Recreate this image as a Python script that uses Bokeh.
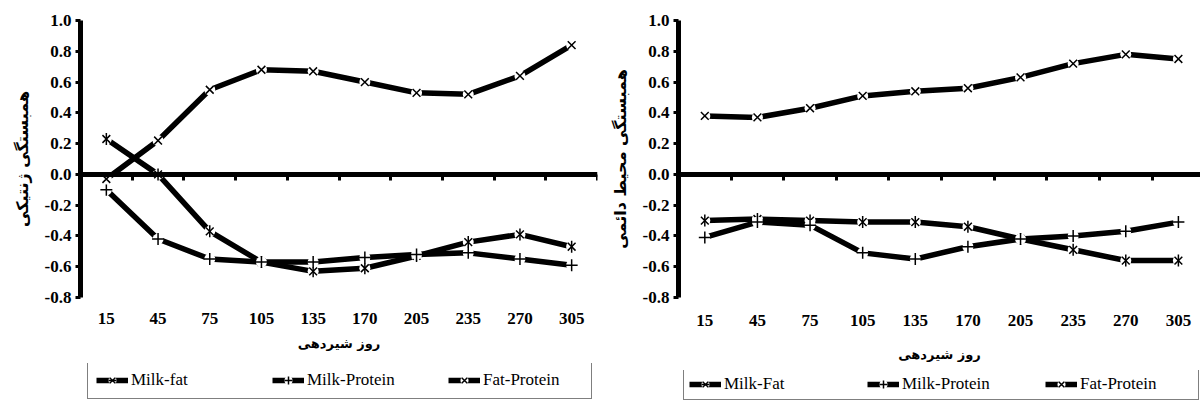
import numpy as np
from bokeh.plotting import figure
from bokeh.models import (Range1d, FixedTicker, LinearAxis, Legend, LegendItem,
                          PrintfTickFormatter, ColumnDataSource)
from bokeh.layouts import row, column
from bokeh.embed import file_html
from bokeh.resources import INLINE

# ---------------- data ----------------
days = ["15", "45", "75", "105", "135", "170", "205", "235", "270", "305"]
y_ticks = [-0.8, -0.6, -0.4, -0.2, 0.0, 0.2, 0.4, 0.6, 0.8, 1.0]

# genetic correlations (left chart)
gen_milk_fat = [0.23, 0.00, -0.37, -0.57, -0.63, -0.61, -0.53, -0.44, -0.39, -0.47]
gen_milk_protein = [-0.10, -0.42, -0.55, -0.57, -0.57, -0.54, -0.52, -0.51, -0.55, -0.59]
gen_fat_protein = [-0.03, 0.22, 0.55, 0.68, 0.67, 0.60, 0.53, 0.52, 0.64, 0.84]

# permanent environmental correlations (right chart)
pe_milk_fat = [-0.30, -0.29, -0.30, -0.31, -0.31, -0.34, -0.42, -0.49, -0.56, -0.56]
pe_milk_protein = [-0.41, -0.31, -0.33, -0.51, -0.55, -0.47, -0.42, -0.40, -0.37, -0.31]
pe_fat_protein = [0.38, 0.37, 0.43, 0.51, 0.54, 0.56, 0.63, 0.72, 0.78, 0.75]

left_ytitle = "همبستگی ژنتیکی"
right_ytitle = "همبستگی محیط دائمی"
xtitle = "روز شیردهی"
left_labels = ["Milk-fat", "Milk-Protein", "Fat-Protein"]
right_labels = ["Milk-Fat", "Milk-Protein", "Fat-Protein"]

xs = [i + 0.5 for i in range(len(days))]
boundaries = list(range(len(days) + 1))

NUM_FONT = "Liberation Serif"
FA_FONT = "DejaVu Sans"


def add_series(p, src, kind):
    rs = [p.line("x", "y", source=src, line_color="black", line_width=5.5)]
    rs.append(p.scatter("x", "y", source=src, marker="circle", size=11,
                        fill_color="white", line_color=None))
    if kind == "star":
        rs.append(p.scatter("x", "y", source=src, marker="x", size=11,
                            line_color="black", line_width=1.5))
        rs.append(p.scatter("x", "y", source=src, marker="dash", angle=np.pi / 2,
                            size=12, line_color="black", line_width=1.5))
    elif kind == "cross":
        rs.append(p.scatter("x", "y", source=src, marker="cross", size=12,
                            line_color="black", line_width=1.5))
    else:
        rs.append(p.scatter("x", "y", source=src, marker="x", size=11,
                            line_color="black", line_width=1.5))
    return rs


def make_chart(border_left, frame_w, border_right, border_bottom, x_end, ytitle,
               series, labels, lab_standoff, title_standoff, leg):
    p = figure(frame_width=frame_w, frame_height=277,
               x_range=Range1d(0, x_end), y_range=Range1d(y_ticks[0], y_ticks[-1]),
               output_backend="svg", toolbar_location=None,
               min_border_left=border_left, min_border_right=border_right,
               min_border_top=20, min_border_bottom=border_bottom)
    p.grid.visible = False
    p.outline_line_color = None
    p.background_fill_color = "white"

    # category labels
    xa = p.xaxis[0]
    xa.ticker = FixedTicker(ticks=xs)
    xa.major_label_overrides = {x: d for x, d in zip(xs, days)}
    xa.axis_line_color = None
    xa.major_tick_line_color = None
    xa.minor_tick_line_color = None
    xa.major_tick_out = 0
    xa.major_tick_in = 0
    xa.major_label_standoff = lab_standoff
    xa.major_label_text_font = NUM_FONT
    xa.major_label_text_font_style = "bold"
    xa.major_label_text_font_size = "17px"
    xa.major_label_text_color = "black"
    xa.axis_label = xtitle
    xa.axis_label_text_font = FA_FONT
    xa.axis_label_text_font_style = "bold"
    xa.axis_label_text_font_size = "13px"
    xa.axis_label_text_color = "black"
    xa.axis_label_standoff = title_standoff

    # y axis
    ya = p.yaxis[0]
    ya.ticker = FixedTicker(ticks=y_ticks)
    ya.formatter = PrintfTickFormatter(format="%.1f")
    ya.axis_line_width = 5
    ya.axis_line_color = "black"
    ya.major_tick_out = 5
    ya.major_tick_in = 0
    ya.major_tick_line_width = 3
    ya.minor_tick_line_color = None
    ya.major_label_standoff = 4
    ya.major_label_text_font = NUM_FONT
    ya.major_label_text_font_style = "bold"
    ya.major_label_text_font_size = "17px"
    ya.major_label_text_color = "black"
    ya.axis_label = ytitle
    ya.axis_label_text_font = FA_FONT
    ya.axis_label_text_font_style = "bold"
    ya.axis_label_text_font_size = "16px"
    ya.axis_label_text_color = "black"
    ya.axis_label_standoff = 10

    # zero line axis with category-boundary ticks
    zax = LinearAxis(fixed_location=0, ticker=FixedTicker(ticks=boundaries),
                     axis_line_width=5, axis_line_color="black",
                     major_tick_in=6, major_tick_out=0, major_tick_line_width=3,
                     minor_tick_line_color=None,
                     major_label_overrides={b: "" for b in boundaries})
    p.add_layout(zax, "above")

    sources = [ColumnDataSource(dict(x=xs, y=ys)) for ys, _ in series]
    for src, (_, kind) in zip(sources, series):
        add_series(p, src, kind)

    # legend strip below the chart (its own small canvas, same series styles)
    lp = figure(width=border_left + frame_w + border_right, height=leg["height"],
                x_range=Range1d(-2, -1), y_range=Range1d(-2, -1),
                output_backend="svg", toolbar_location=None,
                x_axis_location=None, y_axis_location=None,
                min_border=0)
    lp.grid.visible = False
    lp.outline_line_color = None
    items = []
    for src, (_, kind), lab in zip(sources, series, labels):
        rs = add_series(lp, src, kind)
        items.append(LegendItem(label=lab, renderers=rs))
    legend = Legend(items=items, orientation="horizontal",
                    location=leg["loc"], margin=0, padding=leg["padding"],
                    spacing=leg["spacing"], label_width=leg["label_width"],
                    glyph_width=32, label_standoff=3,
                    border_line_color="black", border_line_width=1.5,
                    background_fill_color="white",
                    label_text_font=NUM_FONT, label_text_font_size="17px",
                    label_text_color="black")
    lp.add_layout(legend, "center")
    return column(p, lp)


left = make_chart(80, 517, 3, 66, 10, left_ytitle,
                  [(gen_milk_fat, "star"), (gen_milk_protein, "cross"), (gen_fat_protein, "x")],
                  left_labels, 15, 9,
                  dict(height=46, loc=(7, 10), padding=8, spacing=41, label_width=100))

right = make_chart(78, 522, 0, 73, 9.92, right_ytitle,
                   [(pe_milk_fat, "star"), (pe_milk_protein, "cross"), (pe_fat_protein, "x")],
                   right_labels, 17, 18,
                   dict(height=40, loc=(5, 10), padding=5, spacing=30, label_width=113))

layout = row(left, right)
open("out.html", "w").write(file_html(layout, INLINE))
